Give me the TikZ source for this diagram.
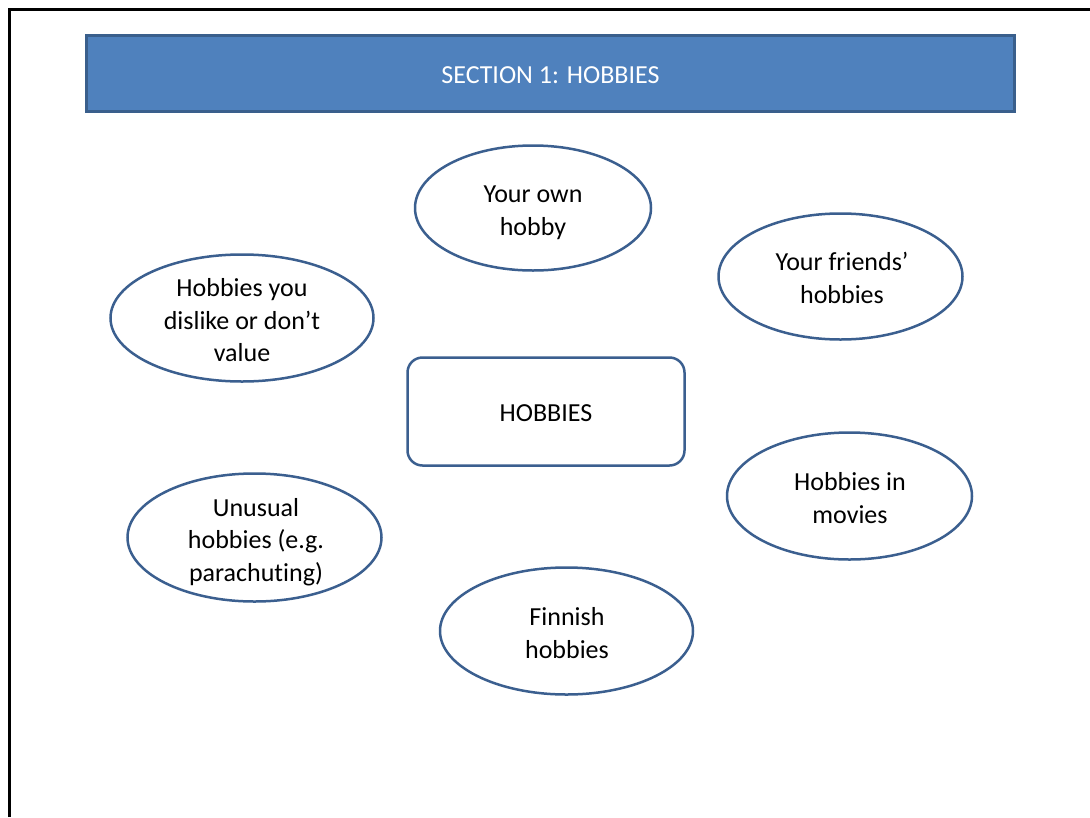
\documentclass[tikz,border=0pt]{standalone}
\usepackage{fontspec}
\setmainfont{Carlito}[Ligatures=NoCommon]
\usetikzlibrary{shapes.geometric}
\definecolor{bannerfill}{HTML}{4F81BD}
\definecolor{bannerline}{HTML}{3A5F8C}
\definecolor{shapeline}{HTML}{3B5F8F}
\tikzset{
  bubble/.style={ellipse, draw=shapeline, line width=2.5pt, fill=white, inner sep=0pt},
  bubbletext/.style={align=center, text=black, inner sep=0pt, font=\fontsize{26}{32.5}\selectfont},
  centerbox/.style={draw=shapeline, line width=2.5pt, rounded corners=15pt, fill=white, minimum width=277pt, minimum height=108pt, inner sep=0pt},
  boxtext/.style={text=black, inner sep=0pt, font=\fontsize{26}{32.5}\selectfont},
  banner/.style={draw=bannerline, fill=bannerfill, line width=3pt, minimum width=928pt, minimum height=75.5pt, inner sep=0pt},
  bannertext/.style={text=white, inner sep=0pt, font=\fontsize{26}{32.5}\selectfont},
  frameline/.style={line width=3pt, draw=black}
}
\begin{document}
\begin{tikzpicture}[x=1pt,y=-1pt]
\useasboundingbox (0,0) rectangle (1090,817);
\coordinate (fbl) at (9.5,817);
\coordinate (ftl) at (9.5,9.5);
\coordinate (ftr) at (1090,9.5);
\draw[frameline] (fbl) -- (ftl) -- (ftr);

\node[banner] (title) at (550.5,73.25) {};
\node[bannertext] (titlet) at (550.5,75.5) {SECTION 1: HOBBIES};

\node[bubble, minimum width=236pt, minimum height=125pt] (own) at (533,208) {};
\node[bubbletext] (ownt) at (533,213) {Your own\\hobby};

\node[bubble, minimum width=244pt, minimum height=126pt] (friends) at (840.5,276.5) {};
\node[bubbletext] (friendst) at (842,278) {Your friends’\\hobbies};

\node[bubble, minimum width=263pt, minimum height=127pt] (dislike) at (242,318) {};
\node[bubbletext] (dislt) at (242,320.5) {Hobbies you\\dislike or don’t\\value};

\node[centerbox] (center) at (546,411.5) {};
\node[boxtext] (centert) at (546,413.5) {HOBBIES};

\node[bubble, minimum width=245pt, minimum height=127pt] (movies) at (849.5,496) {};
\node[bubbletext] (moviest) at (850,498) {Hobbies in\\movies};

\node[bubble, minimum width=254pt, minimum height=128pt] (unusual) at (254.5,537.5) {};
\node[bubbletext] (unusualt) at (256,542) {Unusual\\hobbies (e.g.\\parachuting)};

\node[bubble, minimum width=253pt, minimum height=127pt] (finnish) at (566.5,631) {};
\node[bubbletext] (finnisht) at (567,633) {Finnish\\hobbies};
\end{tikzpicture}
\end{document}
